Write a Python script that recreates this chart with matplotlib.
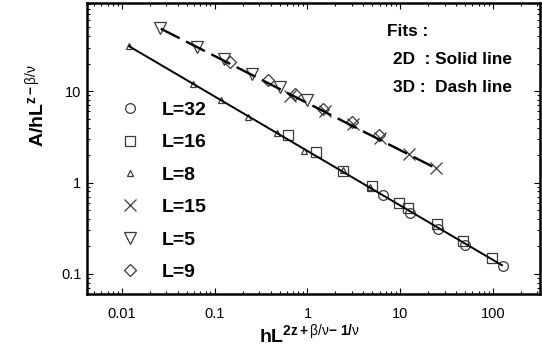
import matplotlib
matplotlib.use("Agg")
import matplotlib.pyplot as plt
from matplotlib.ticker import FixedLocator, FixedFormatter, LogLocator, NullFormatter

plt.rcParams['font.family'] = ['Liberation Sans', 'DejaVu Sans']
plt.rcParams['mathtext.fontset'] = 'custom'
plt.rcParams['mathtext.rm'] = 'Liberation Sans:bold'
plt.rcParams['mathtext.bf'] = 'Liberation Sans:bold'
plt.rcParams['mathtext.sf'] = 'Liberation Sans'
plt.rcParams['mathtext.it'] = 'Liberation Sans:italic'

# ---- data ----
# 2D-type collapse (solid fit)
L32_x = [6.52, 12.7, 25.5, 49.9, 128]
L32_y = [0.738, 0.468, 0.312, 0.208, 0.122]
L16_x = [0.617, 1.235, 2.41, 4.95, 9.7, 12.1, 24.9, 47.5, 97.5]
L16_y = [3.28, 2.14, 1.32, 0.927, 0.603, 0.531, 0.354, 0.231, 0.150]
L8_x = [0.0119, 0.0584, 0.1167, 0.228, 0.469, 0.917, 2.41, 4.72]
L8_y = [31.2, 11.9, 7.96, 5.18, 3.45, 2.19, 1.355, 0.904]
# 3D-type collapse (dashed fit)
L15_x = [0.647, 1.55, 3.10, 6.05, 12.4, 24.3]
L15_y = [8.81, 6.03, 4.34, 3.04, 2.03, 1.43]
L5_x = [0.0257, 0.0644, 0.126, 0.252, 0.505, 0.988]
L5_y = [49.2, 30.5, 22.5, 15.4, 11.1, 7.96]
L9_x = [0.146, 0.375, 0.733, 1.47, 3.02, 5.90]
L9_y = [20.8, 13.2, 9.27, 6.34, 4.56, 3.28]
# fit lines (end points)
fit2d_x = [0.0119, 125]
fit2d_y = [31.2, 0.124]
fit3d_x = [0.0262, 24.3]
fit3d_y = [48.5, 1.43]

xticks = [0.01, 0.1, 1, 10, 100]
xticklabels = ['0.01', '0.1', '1', '10', '100']
yticks = [0.1, 1, 10]
yticklabels = ['0.1', '1', '10']

fig = plt.figure(figsize=(5.42, 3.56), dpi=100)
ax = fig.add_axes([87/542, 62/356, 453/542, 291/356])
ax.set_xscale('log')
ax.set_yscale('log')
ax.set_xlim(0.0042, 321)
ax.set_ylim(0.060, 92.7)

ec = '#3a3a3a'
mk = dict(linestyle='none', markerfacecolor='none', markeredgecolor=ec, markeredgewidth=0.9)
ax.plot(L32_x, L32_y, marker='o', markersize=7, label='L=32', **mk)
ax.plot(L16_x, L16_y, marker='s', markersize=7.5, label='L=16', **mk)
ax.plot(L8_x, L8_y, marker='^', markersize=4.5, label='L=8', **mk)
ax.plot(L15_x, L15_y, marker='x', markersize=8, label='L=15', **mk)
ax.plot(L5_x, L5_y, marker='v', markersize=8, label='L=5', **mk)
ax.plot(L9_x, L9_y, marker='D', markersize=6, label='L=9', **mk)

ax.plot(fit2d_x, fit2d_y, color='black', linewidth=1.4, zorder=3)
ax.plot(fit3d_x, fit3d_y, color='black', linewidth=1.7, dashes=(9, 3), zorder=3)

ax.xaxis.set_major_locator(FixedLocator(xticks))
ax.xaxis.set_major_formatter(FixedFormatter(xticklabels))
ax.yaxis.set_major_locator(FixedLocator(yticks))
ax.yaxis.set_major_formatter(FixedFormatter(yticklabels))
for axis in (ax.xaxis, ax.yaxis):
    axis.set_minor_locator(LogLocator(base=10, subs=range(2, 10)))
    axis.set_minor_formatter(NullFormatter())
ax.tick_params(which='both', direction='in', top=True, right=True, width=0.8)
ax.tick_params(which='major', length=4)
ax.tick_params(which='minor', length=2)
ax.tick_params(axis='x', which='major', pad=9, labelsize=10.5)
ax.tick_params(axis='y', which='major', pad=4, labelsize=10.5)
for s in ax.spines.values():
    s.set_linewidth(1.8)

ax.set_xlabel(r'hL$^{\mathrm{2z+}\mathsf{β/ν}\mathrm{-\ 1/}\mathsf{ν}}$', fontsize=14, fontweight='bold')
ax.xaxis.set_label_coords(0.49, -0.096)
ax.xaxis.label.set_va('top')
ax.set_ylabel(r'A/hL$^{\mathrm{z-}\mathsf{β/ν}}$', fontsize=14, fontweight='bold')
ax.yaxis.set_label_coords(-0.088, 0.648)

leg = ax.legend(loc='upper left', bbox_to_anchor=(0.0744, 0.662), frameon=False,
                prop={'weight': 'bold', 'size': 14}, handlelength=1.0,
                handletextpad=1.1, labelspacing=0.76, borderpad=0, borderaxespad=0)

tkw = dict(transform=ax.transAxes, fontsize=12.4, fontweight='bold', va='center', ha='left')
ax.text((387-87)/453, (294-31)/291, 'Fits :', **tkw)
ax.text((393-87)/453, (294-60)/291, '2D  : Solid line', **tkw)
ax.text((393-87)/453, (294-88)/291, '3D :  Dash line', **tkw)

fig.savefig('out.png', dpi=100)
